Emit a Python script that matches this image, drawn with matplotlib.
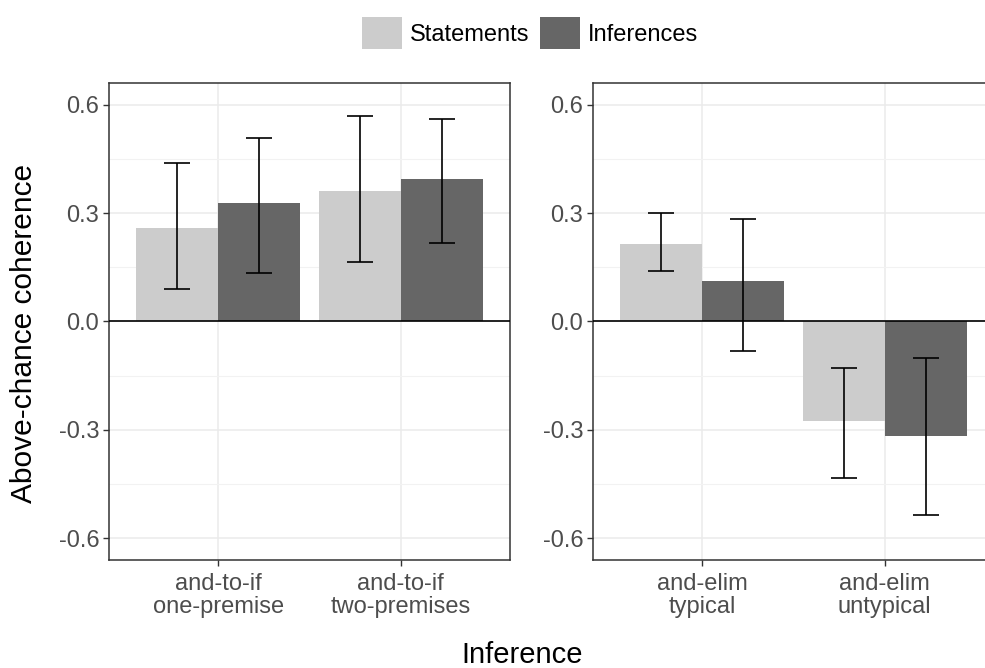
import numpy as np
import matplotlib
matplotlib.use("Agg")
import matplotlib.pyplot as plt
from matplotlib.patches import Patch

plt.rcParams['font.family'] = ['Liberation Sans', 'DejaVu Sans']

# panel 1: and-to-if, panel 2: and-elim
left_labels = ["and-to-if\none-premise", "and-to-if\ntwo-premises"]
right_labels = ["and-elim\ntypical", "and-elim\nuntypical"]

stmt_left = [0.259, 0.360]
stmt_left_lo = [0.090, 0.165]
stmt_left_hi = [0.439, 0.568]
inf_left = [0.328, 0.393]
inf_left_lo = [0.134, 0.218]
inf_left_hi = [0.508, 0.561]

stmt_right = [0.214, -0.276]
stmt_right_lo = [0.139, -0.434]
stmt_right_hi = [0.300, -0.128]
inf_right = [0.113, -0.318]
inf_right_lo = [-0.081, -0.535]
inf_right_hi = [0.284, -0.101]

light = "#CCCCCC"
dark = "#666666"
txt_grey = "#4D4D4D"
border = "#333333"

W, H = 985, 668
fig = plt.figure(figsize=(W / 100, H / 100), dpi=100)

def panel(x0, labels, s, s_lo, s_hi, v, v_lo, v_hi):
    ax = fig.add_axes([x0 / W, 1 - 560 / H, 401 / W, 477 / H])
    x = np.arange(1, len(labels) + 1)
    bw = 0.45
    ax.bar(x - bw / 2, s, width=bw, color=light, zorder=2)
    ax.bar(x + bw / 2, v, width=bw, color=dark, zorder=2)
    for xs, m, lo, hi in [(x - bw / 2, s, s_lo, s_hi), (x + bw / 2, v, v_lo, v_hi)]:
        m = np.array(m)
        err = [m - np.array(lo), np.array(hi) - m]
        ax.errorbar(xs, m, yerr=err, fmt="none", ecolor="black",
                    elinewidth=1.2, capsize=9.7, capthick=1.2, zorder=4)
    ax.axhline(0, color="black", lw=1.2, zorder=3)
    ax.set_xlim(0.4, 2.6)
    ax.set_ylim(-0.66, 0.66)
    ax.set_xticks(x)
    ax.set_xticklabels(labels, fontsize=17, color=txt_grey, linespacing=1.1)
    ax.set_yticks([-0.6, -0.3, 0.0, 0.3, 0.6])
    ax.set_yticklabels(["-0.6", "-0.3", "0.0", "0.3", "0.6"], fontsize=17, color=txt_grey)
    ax.set_yticks([-0.45, -0.15, 0.15, 0.45], minor=True)
    ax.tick_params(axis="y", which="minor", length=0)
    ax.tick_params(axis="both", which="major", length=4.5, width=1.0, color=border, pad=2.5)
    ax.tick_params(axis="x", pad=4.5)
    ax.grid(True, which="major", color="#EBEBEB", lw=1.1, zorder=0)
    ax.grid(True, which="minor", axis="y", color="#F2F2F2", lw=0.8, zorder=0)
    ax.set_axisbelow(True)
    for sp in ax.spines.values():
        sp.set_color(border)
        sp.set_linewidth(1.1)
    return ax

panel(109, left_labels, stmt_left, stmt_left_lo, stmt_left_hi, inf_left, inf_left_lo, inf_left_hi)
panel(593, right_labels, stmt_right, stmt_right_lo, stmt_right_hi, inf_right, inf_right_lo, inf_right_hi)

fig.text(24 / W, 1 - 333 / H, "Above-chance coherence", rotation=90,
         ha="center", va="center", fontsize=21.5, color="black")
fig.text(522 / W, 1 - 655 / H, "Inference", ha="center", va="center",
         fontsize=21, color="black")

handles = [Patch(facecolor=light, edgecolor="none"), Patch(facecolor=dark, edgecolor="none")]
fig.legend(handles, ["Statements", "Inferences"], loc="center",
           bbox_to_anchor=(530 / W, 1 - 33 / H), ncol=2, frameon=False,
           fontsize=17, handlelength=1.7, handleheight=1.7,
           handletextpad=0.34, columnspacing=0.42, borderpad=0)

fig.savefig("out.png", dpi=100)
